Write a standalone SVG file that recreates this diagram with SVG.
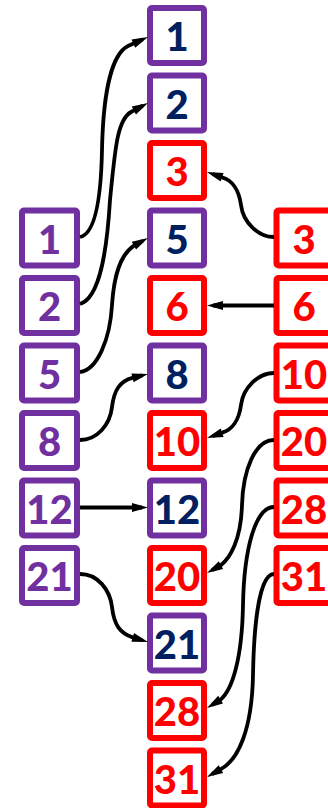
<svg xmlns="http://www.w3.org/2000/svg" width="328" height="808" viewBox="0 0 328 808">
<style>
.bp{fill:#fff;stroke:#7030A0;stroke-width:6}
.br{fill:#fff;stroke:#FF0000;stroke-width:6}
text{font-family:Lato,"Open Sans","Liberation Sans",sans-serif;font-weight:900;font-size:40px;text-anchor:middle}
.tp{fill:#7030A0}
.tn{fill:#002060}
.tr{fill:#FF0000}
.c{fill:none;stroke:#000;stroke-width:3.8;marker-end:url(#ah)}
</style>
<defs>
<marker id="ah" markerUnits="userSpaceOnUse" markerWidth="16" markerHeight="9" refX="10" refY="4.5" orient="auto" overflow="visible">
<path d="M0,0 L16,4.5 L0,9 Z" fill="#000"/>
</marker>
</defs>
<g id="mid">
<g id="m1"><rect class="bp" x="150" y="8" width="54" height="55" rx="2"/><text class="tn" x="177" y="51">1</text></g>
<g id="m2"><rect class="bp" x="150" y="75.5" width="54" height="55" rx="2"/><text class="tn" x="177" y="118.5">2</text></g>
<g id="m3"><rect class="br" x="150" y="143" width="54" height="55" rx="2"/><text class="tr" x="177" y="186">3</text></g>
<g id="m5"><rect class="bp" x="150" y="210.5" width="54" height="55" rx="2"/><text class="tn" x="177" y="253.5">5</text></g>
<g id="m6"><rect class="br" x="150" y="278" width="54" height="55" rx="2"/><text class="tr" x="177" y="321">6</text></g>
<g id="m8"><rect class="bp" x="150" y="345.5" width="54" height="55" rx="2"/><text class="tn" x="177" y="388.5">8</text></g>
<g id="m10"><rect class="br" x="150" y="413" width="54" height="55" rx="2"/><text class="tr" x="177" y="456">10</text></g>
<g id="m12"><rect class="bp" x="150" y="480.5" width="54" height="55" rx="2"/><text class="tn" x="177" y="523.5">12</text></g>
<g id="m20"><rect class="br" x="150" y="548" width="54" height="55" rx="2"/><text class="tr" x="177" y="591">20</text></g>
<g id="m21"><rect class="bp" x="150" y="615.5" width="54" height="55" rx="2"/><text class="tn" x="177" y="658.5">21</text></g>
<g id="m28"><rect class="br" x="150" y="683" width="54" height="55" rx="2"/><text class="tr" x="177" y="726">28</text></g>
<g id="m31"><rect class="br" x="150" y="750.5" width="54" height="55" rx="2"/><text class="tr" x="177" y="793.5">31</text></g>
</g>
<g id="left">
<g id="l1"><rect class="bp" x="22" y="210.5" width="55" height="55" rx="2"/><text class="tp" x="49.5" y="253.5">1</text></g>
<g id="l2"><rect class="bp" x="22" y="278" width="55" height="55" rx="2"/><text class="tp" x="49.5" y="321">2</text></g>
<g id="l5"><rect class="bp" x="22" y="345.5" width="55" height="55" rx="2"/><text class="tp" x="49.5" y="388.5">5</text></g>
<g id="l8"><rect class="bp" x="22" y="413" width="55" height="55" rx="2"/><text class="tp" x="49.5" y="456">8</text></g>
<g id="l12"><rect class="bp" x="22" y="480.5" width="55" height="55" rx="2"/><text class="tp" x="49.5" y="523.5">12</text></g>
<g id="l21"><rect class="bp" x="22" y="548" width="55" height="55" rx="2"/><text class="tp" x="49.5" y="591">21</text></g>
</g>
<g id="right">
<g id="r3"><rect class="br" x="276.5" y="210.5" width="55" height="55" rx="2"/><text class="tr" x="304" y="253.5">3</text></g>
<g id="r6"><rect class="br" x="276.5" y="278" width="55" height="55" rx="2"/><text class="tr" x="304" y="321">6</text></g>
<g id="r10"><rect class="br" x="276.5" y="345.5" width="55" height="55" rx="2"/><text class="tr" x="304" y="388.5">10</text></g>
<g id="r20"><rect class="br" x="276.5" y="413" width="55" height="55" rx="2"/><text class="tr" x="304" y="456">20</text></g>
<g id="r28"><rect class="br" x="276.5" y="480.5" width="55" height="55" rx="2"/><text class="tr" x="304" y="523.5">28</text></g>
<g id="r31"><rect class="br" x="276.5" y="548" width="55" height="55" rx="2"/><text class="tr" x="304" y="591">31</text></g>
</g>
<g id="connectors">
<path class="c" d="M80,237 C95,234 101,200 102,150 C103,100 110,55 128,46 L142.5,39.5"/>
<path class="c" d="M80,304 C100,298 107,250 110,200 C115,150 117,120 131,112 L142.7,105.8"/>
<path class="c" d="M274,237 C258,237 243,222 241,205 C239,190 232,180 222,177.3 L212.6,174"/>
<path class="c" d="M80,372 C97,370 110,340 112,305 C114,275 120,255 134,245.6 L142.7,240.9"/>
<path class="c" d="M274,305.5 L213,305.5"/>
<path class="c" d="M80,440 C97,440 110,425 112,407 C114,390 120,381 132.5,377.8 L142.2,375.4"/>
<path class="c" d="M274,373 C258,373 243,388 241,405 C239,420 232,430 222.1,432.7 L212.7,436"/>
<path class="c" d="M80,507.5 L142,507.5"/>
<path class="c" d="M274,440 C255,440 243,470 242,505 C241,540 230,558 220.9,565.2 L212.2,570"/>
<path class="c" d="M80,574 C98,574 110,590 112,607 C114,625 120,633 132.7,637.4 L142.3,640.3"/>
<path class="c" d="M274,507 C255,507 244,550 243,605 C242,660 232,690 220.6,699.6 L212.1,704.9"/>
<path class="c" d="M274,574 C260,574 254,620 253,675 C252,730 238,760 220.9,769.1 L212.2,774"/>
</g>
</svg>
